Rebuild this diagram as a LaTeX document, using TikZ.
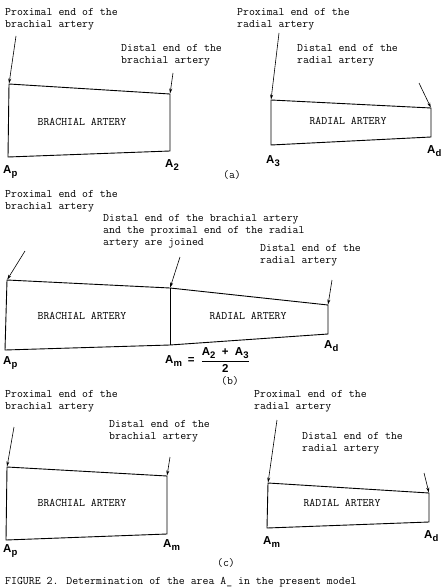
\documentclass[tikz,border=0pt]{standalone}
\usepackage{fontspec}
\setsansfont{Liberation Sans}
\usepackage{xcolor}
\usetikzlibrary{arrows.meta,positioning}
\newcommand{\lowsub}[1]{\raisebox{-0.45ex}{\fontsize{9.5}{10}\selectfont #1}}

\begin{document}
\begin{tikzpicture}[x=1pt,y=-1pt, note/.style={anchor=west,align=left,inner sep=0pt,font=\ttfamily\fontsize{11.5}{12}\selectfont}, seg/.style={inner sep=0pt,font=\ttfamily\fontsize{11.5}{12}\selectfont}, area/.style={anchor=west,inner sep=0pt,font=\sffamily\bfseries\fontsize{11.5}{13}\selectfont}, wall/.style={line width=0.9pt}, ptr/.style={-{Stealth[length=5pt,width=3pt]},line width=0.6pt,shorten >=0.5pt}]
\useasboundingbox (0,0) rectangle (440,588);
% (a)
\coordinate (ba1) at (9,84); \coordinate (ba2) at (170,94); \coordinate (ba3) at (170,151); \coordinate (ba4) at (8,157);
\coordinate (ra1) at (271,100); \coordinate (ra2) at (431,108); \coordinate (ra3) at (431,137); \coordinate (ra4) at (271,145);
\draw[wall] (ba1) -- (ba2) -- (ba3) -- (ba4) -- cycle;
\draw[wall] (ra1) -- (ra2) -- (ra3) -- (ra4) -- cycle;
\node[note] (aproxb) at (5,19) {Proximal end of the\\brachial artery};
\node[note] (adistb) at (121,55) {Distal end of the\\brachial artery};
\node[note] (aproxr) at (237,19) {Proximal end of the\\radial artery};
\node[note] (adistr) at (297,55) {Distal end of the\\radial artery};
\coordinate (ta1) at (16,36); \coordinate (ta2) at (173,73); \coordinate (ta3) at (279,33); \coordinate (ta4) at (419,83);
\draw[ptr] (ta1) -- (ba1); \draw[ptr] (ta2) -- (ba2);
\draw[ptr] (ta3) -- (ra1); \draw[ptr] (ta4) -- (ra2);
\node[seg] (abrach) at (82,122) {BRACHIAL ARTERY};
\node[seg] (aradial) at (348,121) {RADIAL ARTERY};
\node[area] (aap) at (3,172) {A\lowsub{p}};
\node[area] (aa2) at (165,165) {A\lowsub{2}};
\node[area] (aa3) at (266,161) {A\lowsub{3}};
\node[area] (aad) at (427,151) {A\lowsub{d}};
\node[seg] (tagA) at (232,175) {(a)};
% (b)
\coordinate (bb1) at (7,280); \coordinate (bb2) at (170,288); \coordinate (bb3) at (328,305);
\coordinate (bb4) at (328,334); \coordinate (bb5) at (170,345); \coordinate (bb6) at (5,350);
\draw[wall] (bb1) -- (bb2) -- (bb3) -- (bb4) -- (bb5) -- (bb6) -- cycle;
\draw[wall] (bb2) -- (bb5);
\node[note] (bproxb) at (5,201) {Proximal end of the\\brachial artery};
\node[note] (bjoin) at (103,231) {Distal end of the brachial artery\\and the proximal end of the radial\\artery are joined};
\node[note] (bdistr) at (260,255) {Distal end of the\\radial artery};
\coordinate (tb1) at (25,251); \coordinate (tb2) at (180,257); \coordinate (tb3) at (332,280);
\draw[ptr] (tb1) -- (bb1); \draw[ptr] (tb2) -- (bb2); \draw[ptr] (tb3) -- (bb3);
\node[seg] (bbrach) at (82,316) {BRACHIAL ARTERY};
\node[seg] (bradial) at (248,316) {RADIAL ARTERY};
\node[area] (bap) at (3,363) {A\lowsub{p}};
\node[area] (bam) at (165,360) {A\lowsub{m}\hspace{6pt}=\hspace{6pt}$\displaystyle\frac{\mbox{A\lowsub{2}\ \ +\ \ A\lowsub{3}}}{\mbox{2}}$};
\node[area] (bad) at (324,346) {A\lowsub{d}};
\node[seg] (tagB) at (230,381) {(b)};
% (c)
\coordinate (cb1) at (7,467); \coordinate (cb2) at (167,476); \coordinate (cb3) at (167,534); \coordinate (cb4) at (6,540);
\coordinate (cr1) at (268,483); \coordinate (cr2) at (429,493); \coordinate (cr3) at (429,522); \coordinate (cr4) at (267,528);
\draw[wall] (cb1) -- (cb2) -- (cb3) -- (cb4) -- cycle;
\draw[wall] (cr1) -- (cr2) -- (cr3) -- (cr4) -- cycle;
\node[note] (cproxb) at (5,401) {Proximal end of the\\brachial artery};
\node[note] (cdistb) at (109,431) {Distal end of the\\brachial artery};
\node[note] (cproxr) at (254,401) {Proximal end of the\\radial artery};
\node[note] (cdistr) at (302,443) {Distal end of the\\radial artery};
\coordinate (tc1) at (14,427); \coordinate (tc2) at (170,457); \coordinate (tc3) at (277,420); \coordinate (tc4) at (424,473);
\draw[ptr] (tc1) -- (cb1); \draw[ptr] (tc2) -- (cb2);
\draw[ptr] (tc3) -- (cr1); \draw[ptr] (tc4) -- (cr2);
\node[seg] (cbrach) at (82,503) {BRACHIAL ARTERY};
\node[seg] (cradial) at (342,503) {RADIAL ARTERY};
\node[area] (cap) at (3,551) {A\lowsub{p}};
\node[area] (cam) at (163,545) {A\lowsub{m}};
\node[area] (cam2) at (263,542) {A\lowsub{m}};
\node[area] (cad) at (424,536) {A\lowsub{d}};
\node[seg] (tagC) at (226,563) {(c)};
\node[note] (caption) at (5,582) {FIGURE 2. Determination of the area A\_ in the present model};
\end{tikzpicture}
\end{document}
